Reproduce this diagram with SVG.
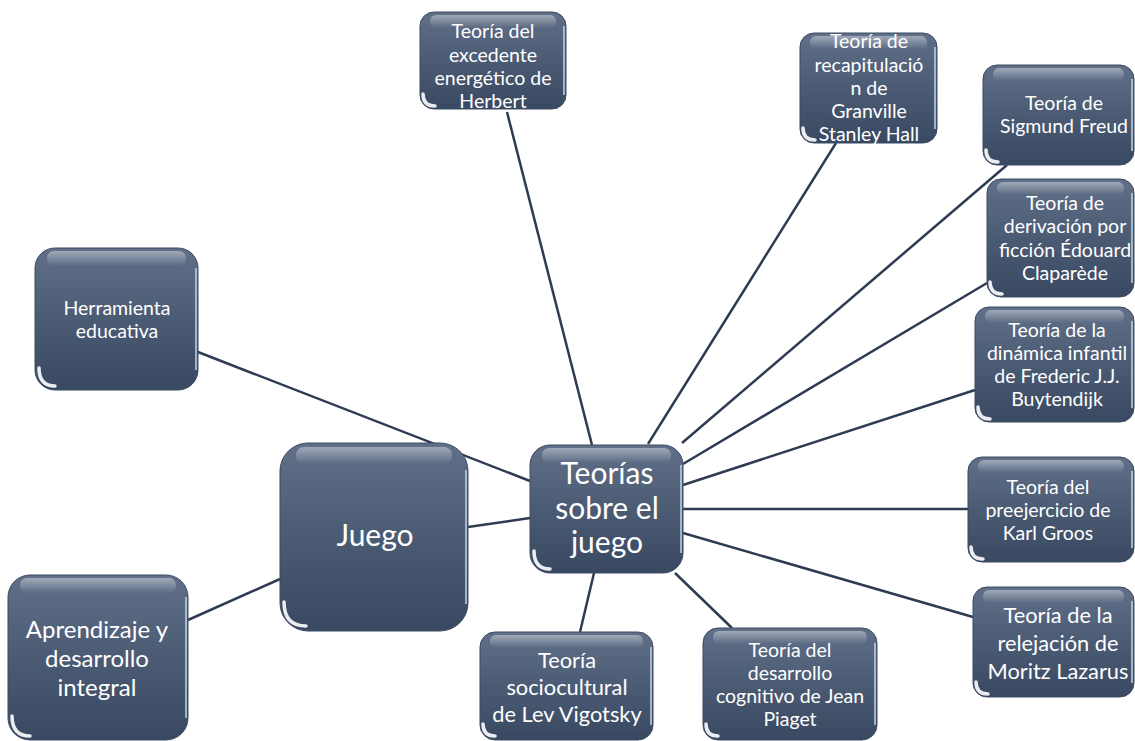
<svg xmlns="http://www.w3.org/2000/svg" width="1135" height="741" viewBox="0 0 1135 741">
<defs>
<linearGradient id="fillG" x1="0" y1="0" x2="0" y2="1">
<stop offset="0" stop-color="#617088"/>
<stop offset="0.5" stop-color="#4b5b74"/>
<stop offset="1" stop-color="#3a4962"/>
</linearGradient>
<linearGradient id="glossG" x1="0" y1="0" x2="0" y2="1">
<stop offset="0" stop-color="#ffffff" stop-opacity="0.4"/>
<stop offset="1" stop-color="#ffffff" stop-opacity="0"/>
</linearGradient>
</defs>
<style>
.box{fill:url(#fillG);stroke:#3a4a63;stroke-width:1}
.gloss{fill:url(#glossG)}
.rim{fill:none;stroke:#c3d3ea;stroke-width:2;stroke-opacity:0.75}
.hl{fill:none;stroke:#ffffff;stroke-width:3.5;stroke-linecap:round;stroke-opacity:0.9}
.t{font-family:Lato,"Open Sans",sans-serif;fill:#ffffff;text-anchor:middle}
.s{font-size:19.5px}
.m{font-size:21.8px}
.l{font-size:24px}
.xl{font-size:30px}
.edge{stroke:#2e3b52;stroke-width:2.5;fill:none}
</style>
<rect width="1135" height="741" fill="#ffffff"/>
<g id="connectors">
<line class="edge" x1="507" y1="112" x2="592" y2="445"/>
<line class="edge" x1="836" y1="143" x2="648" y2="444"/>
<line class="edge" x1="1007" y1="165" x2="682" y2="443"/>
<line class="edge" x1="987" y1="283" x2="683" y2="464"/>
<line class="edge" x1="975" y1="390" x2="683" y2="485"/>
<line class="edge" x1="968" y1="509" x2="683" y2="509"/>
<line class="edge" x1="973" y1="617" x2="683" y2="533"/>
<line class="edge" x1="675" y1="573" x2="732" y2="628"/>
<line class="edge" x1="594" y1="573" x2="580" y2="632"/>
<line class="edge" x1="198" y1="352" x2="530" y2="481"/>
<line class="edge" x1="468" y1="527" x2="530" y2="518"/>
<line class="edge" x1="188" y1="620" x2="280" y2="579"/>
</g>
<g id="herbert">
<rect class="box" x="420" y="12" width="146" height="97" rx="14"/>
<rect class="gloss" x="430" y="15" width="126" height="13" rx="6"/>
<path class="rim" d="M564,26 L564,95"/>
<path class="hl" d="M423,94 Q423,106 435,106"/>
<text class="t s"><tspan x="493" y="38">Teoría del</tspan><tspan x="493" y="62">excedente</tspan><tspan x="493" y="85">energético de</tspan><tspan x="493" y="108">Herbert</tspan></text>
</g>
<g id="granville">
<rect class="box" x="800" y="33" width="137" height="110" rx="14"/>
<rect class="gloss" x="810" y="36" width="117" height="13" rx="6"/>
<path class="rim" d="M935,47 L935,129"/>
<path class="hl" d="M803,128 Q803,140 815,140"/>
<text class="t s"><tspan x="869" y="48">Teoría de</tspan><tspan x="869" y="72">recapitulació</tspan><tspan x="869" y="95">n de</tspan><tspan x="869" y="118">Granville</tspan><tspan x="869" y="141">Stanley Hall</tspan></text>
</g>
<g id="freud">
<rect class="box" x="983" y="65" width="151" height="100" rx="14"/>
<rect class="gloss" x="993" y="68" width="131" height="13" rx="6"/>
<path class="rim" d="M1132,79 L1132,151"/>
<path class="hl" d="M986,150 Q986,162 998,162"/>
<text class="t s"><tspan x="1064" y="110">Teoría de</tspan><tspan x="1064" y="133">Sigmund Freud</tspan></text>
</g>
<g id="claparede">
<rect class="box" x="987" y="179" width="147" height="118" rx="14"/>
<rect class="gloss" x="997" y="182" width="127" height="13" rx="6"/>
<path class="rim" d="M1132,193 L1132,283"/>
<path class="hl" d="M990,282 Q990,294 1002,294"/>
<text class="t s"><tspan x="1065" y="210">Teoría de</tspan><tspan x="1065" y="233">derivación por</tspan><tspan x="1065" y="257">ficción Édouard</tspan><tspan x="1065" y="280">Claparède</tspan></text>
</g>
<g id="buytendijk">
<rect class="box" x="975" y="307" width="159" height="115" rx="14"/>
<rect class="gloss" x="985" y="310" width="139" height="13" rx="6"/>
<path class="rim" d="M1132,321 L1132,408"/>
<path class="hl" d="M978,407 Q978,419 990,419"/>
<text class="t s"><tspan x="1057" y="337">Teoría de la</tspan><tspan x="1057" y="360">dinámica infantil</tspan><tspan x="1057" y="383">de Frederic J.J.</tspan><tspan x="1057" y="406">Buytendijk</tspan></text>
</g>
<g id="groos">
<rect class="box" x="968" y="457" width="166" height="105" rx="14"/>
<rect class="gloss" x="978" y="460" width="146" height="13" rx="6"/>
<path class="rim" d="M1132,471 L1132,548"/>
<path class="hl" d="M971,547 Q971,559 983,559"/>
<text class="t s"><tspan x="1048" y="494">Teoría del</tspan><tspan x="1048" y="517">preejercicio de</tspan><tspan x="1048" y="540">Karl Groos</tspan></text>
</g>
<g id="lazarus">
<rect class="box" x="973" y="587" width="161" height="110" rx="14"/>
<rect class="gloss" x="983" y="590" width="141" height="13" rx="6"/>
<path class="rim" d="M1132,601 L1132,683"/>
<path class="hl" d="M976,682 Q976,694 988,694"/>
<text class="t m"><tspan x="1058" y="623">Teoría de la</tspan><tspan x="1058" y="651">relejación de</tspan><tspan x="1058" y="679">Moritz Lazarus</tspan></text>
</g>
<g id="piaget">
<rect class="box" x="703" y="628" width="174" height="112" rx="15"/>
<rect class="gloss" x="713" y="631" width="154" height="13" rx="6"/>
<path class="rim" d="M875,643 L875,725"/>
<path class="hl" d="M706,724 Q706,736 718,736"/>
<text class="t s"><tspan x="790" y="657">Teoría del</tspan><tspan x="790" y="680">desarrollo</tspan><tspan x="790" y="703">cognitivo de Jean</tspan><tspan x="790" y="726">Piaget</tspan></text>
</g>
<g id="vigotsky">
<rect class="box" x="480" y="632" width="173" height="108" rx="15"/>
<rect class="gloss" x="490" y="635" width="153" height="13" rx="6"/>
<path class="rim" d="M651,647 L651,725"/>
<path class="hl" d="M483,724 Q483,736 495,736"/>
<text class="t m"><tspan x="567" y="668">Teoría</tspan><tspan x="567" y="695">sociocultural</tspan><tspan x="567" y="722">de Lev Vigotsky</tspan></text>
</g>
<g id="teorias">
<rect class="box" x="530" y="445" width="153" height="128" rx="20"/>
<rect class="gloss" x="542" y="448" width="129" height="15" rx="7"/>
<path class="rim" d="M681,465 L681,553"/>
<path class="hl" d="M534,551 Q534,569 550,569"/>
<text class="t xl"><tspan x="607" y="484">Teorías</tspan><tspan x="607" y="519">sobre el</tspan><tspan x="607" y="553">juego</tspan></text>
</g>
<g id="juego">
<rect class="box" x="280" y="443" width="188" height="188" rx="28"/>
<rect class="gloss" x="296" y="447" width="156" height="17" rx="8"/>
<path class="rim" d="M466,470 L466,604"/>
<path class="hl" d="M284,602 Q284,626 306,626"/>
<text class="t xl" x="375" y="546">Juego</text>
</g>
<g id="herramienta">
<rect class="box" x="35" y="248" width="163" height="142" rx="20"/>
<rect class="gloss" x="47" y="251" width="139" height="15" rx="7"/>
<path class="rim" d="M196,268 L196,370"/>
<path class="hl" d="M39,368 Q39,386 55,386"/>
<text class="t s"><tspan x="117" y="315">Herramienta</tspan><tspan x="117" y="338">educativa</tspan></text>
</g>
<g id="aprendizaje">
<rect class="box" x="8" y="575" width="180" height="165" rx="22"/>
<rect class="gloss" x="20" y="578" width="156" height="15" rx="7"/>
<path class="rim" d="M186,597 L186,718"/>
<path class="hl" d="M12,716 Q12,736 30,736"/>
<text class="t l"><tspan x="97" y="638">Aprendizaje y</tspan><tspan x="97" y="667">desarrollo</tspan><tspan x="97" y="696">integral</tspan></text>
</g>
</svg>
